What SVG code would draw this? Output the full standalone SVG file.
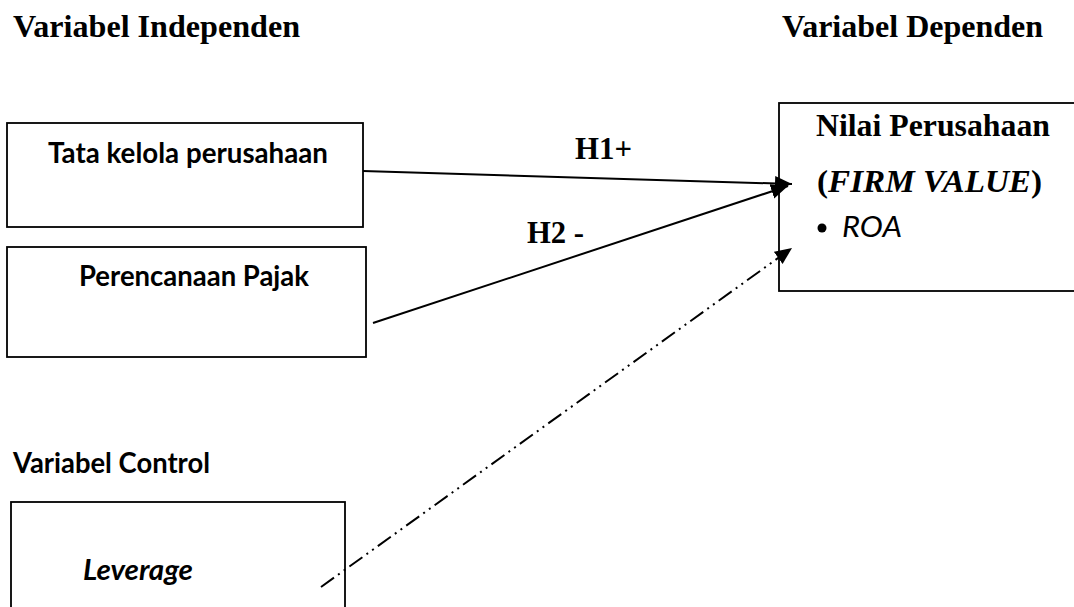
<svg xmlns="http://www.w3.org/2000/svg" width="1074" height="607" viewBox="0 0 1074 607">
<style>
.box{fill:#fff;stroke:#000;stroke-width:1.8}
.serif{font-family:"Liberation Serif","Times New Roman",serif;font-weight:bold;font-size:32px;fill:#000}
.sans{font-family:Lato,"Open Sans","Liberation Sans",sans-serif;font-weight:bold;font-size:28px;fill:#000}
.conn{stroke:#000;stroke-width:2;fill:none}
</style>
<defs>
<marker id="ah" markerUnits="userSpaceOnUse" markerWidth="18" markerHeight="16" refX="17" refY="7.5" orient="auto">
<path d="M0,0 L17,7.5 L0,15 z" fill="#000"/>
</marker>
</defs>
<rect width="1074" height="607" fill="#fff"/>
<text class="serif" x="13" y="37" textLength="287" lengthAdjust="spacingAndGlyphs">Variabel Independen</text>
<text class="serif" x="782" y="37" textLength="261" lengthAdjust="spacingAndGlyphs">Variabel Dependen</text>
<text class="sans" x="13" y="473" textLength="197" lengthAdjust="spacingAndGlyphs">Variabel Control</text>
<g id="node-tata">
<rect class="box" x="7" y="123" width="356" height="104"/>
<text class="sans" x="48" y="163" textLength="280" lengthAdjust="spacingAndGlyphs">Tata kelola perusahaan</text>
</g>
<g id="node-pajak">
<rect class="box" x="7" y="247" width="359" height="110"/>
<text class="sans" x="79" y="286" textLength="230" lengthAdjust="spacingAndGlyphs">Perencanaan Pajak</text>
</g>
<g id="node-nilai">
<rect class="box" x="779" y="103" width="310" height="188"/>
<text class="serif" x="816" y="136" textLength="234" lengthAdjust="spacingAndGlyphs">Nilai Perusahaan</text>
<text class="serif" x="817" y="192" textLength="225" lengthAdjust="spacingAndGlyphs">(<tspan font-style="italic">FIRM VALUE</tspan>)</text>
<circle cx="822" cy="228" r="4.5"/>
<text class="sans" x="842" y="237" font-style="italic" textLength="60" lengthAdjust="spacingAndGlyphs" style="font-weight:normal">ROA</text>
</g>
<g id="node-leverage">
<rect class="box" x="11" y="502" width="334" height="120"/>
<text class="sans" x="83" y="580" font-style="italic" textLength="110" lengthAdjust="spacingAndGlyphs">Leverage</text>
</g>
<g id="connectors">
<line class="conn" x1="363" y1="171" x2="792" y2="184" marker-end="url(#ah)"/>
<line class="conn" x1="373" y1="323" x2="788" y2="186" marker-end="url(#ah)"/>
<line class="conn" x1="321" y1="587" x2="792" y2="248" stroke-dasharray="16 5 2 5 2 5" marker-end="url(#ah)"/>
<text class="serif" x="575" y="159" textLength="57" lengthAdjust="spacingAndGlyphs">H1+</text>
<text class="serif" x="527" y="243" textLength="57" lengthAdjust="spacingAndGlyphs">H2 -</text>
</g>
</svg>
